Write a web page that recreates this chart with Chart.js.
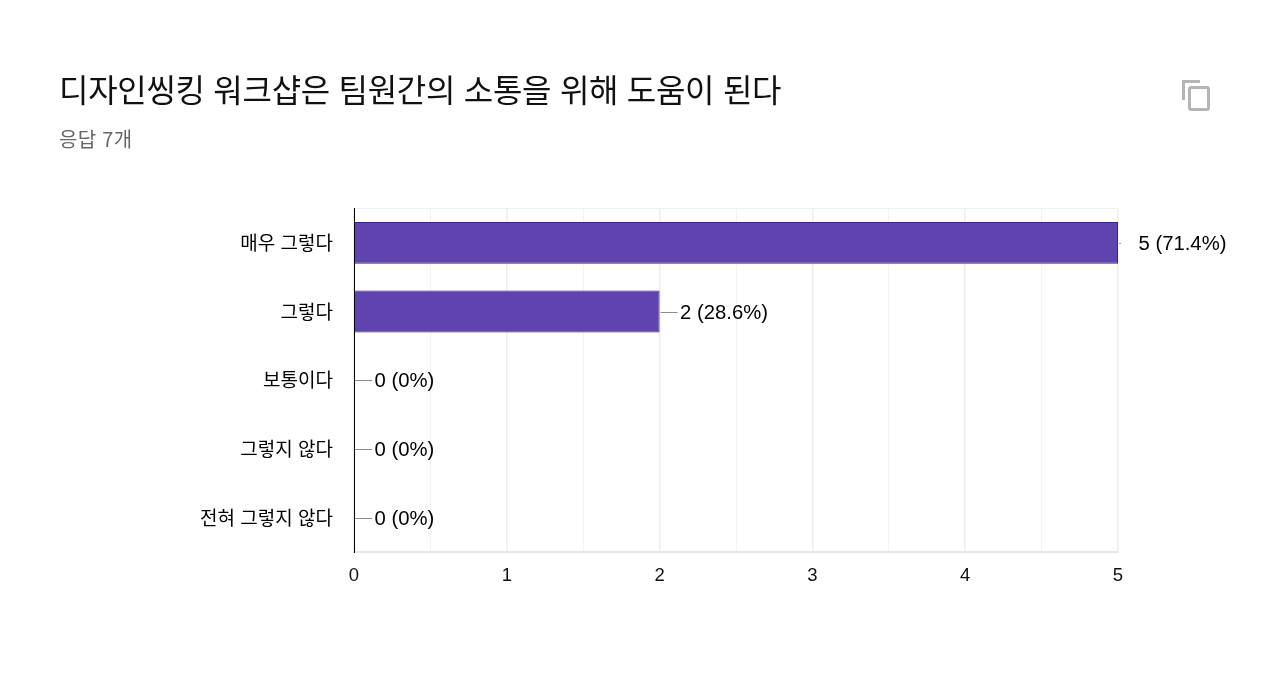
<!DOCTYPE html>
<html lang="ko">
<head>
    <meta charset="UTF-8">
    <title>디자인씽킹 워크샵은 팀원간의 소통을 위해 도움이 된다</title>
    <style>
        html, body { margin: 0; padding: 0; background: #fff; overflow: hidden; }
        #wrap { position: relative; width: 1280px; height: 678px; }
        #chartCanvas { position: absolute; left: 0; top: 0; }
        h1 {
            position: absolute; left: 59px; top: 65px; margin: 0;
            font: 400 32px "Noto Sans CJK KR", sans-serif; color: #111; letter-spacing: -0.3px;
            white-space: nowrap; line-height: 46px;
        }
        p {
            position: absolute; left: 59px; top: 125px; margin: 0;
            font: 400 20px "Noto Sans CJK KR", sans-serif; color: #666; letter-spacing: 0.3px;
            white-space: nowrap; line-height: 28px;
        }
        svg { position: absolute; left: 1182px; top: 79px; }
    </style>
    <script src="https://cdn.jsdelivr.net/npm/chart.js@4"></script>
</head>
<body>
    <div id="wrap">
        <canvas id="chartCanvas" width="1280" height="678"></canvas>
        <h1>디자인씽킹 워크샵은 팀원간의 소통을 위해 도움이 된다</h1>
        <p>응답 7개</p>
        <svg width="28" height="32" viewBox="0 0 28 32" fill="none" stroke="#b5b5b5" stroke-width="3">
            <path d="M1.5 21V2.5H18"/>
            <rect x="7.5" y="8.5" width="19" height="22" rx="1.5"/>
        </svg>
    </div>

    <script>
        var categories = ['매우 그렇다', '그렇다', '보통이다', '그렇지 않다', '전혀 그렇지 않다'];
        var counts = [5, 2, 0, 0, 0];
        var valueLabels = ['5 (71.4%)', '2 (28.6%)', '0 (0%)', '0 (0%)', '0 (0%)'];
        var leaderLengths = [2, 17, 17, 17, 17];

        var labelFont = '"Liberation Sans", "Noto Sans CJK KR", sans-serif';

        // value labels with the little grey leader line
        var valueLabelPlugin = {
            id: 'valueLabels',
            afterDatasetsDraw: function (chart) {
                var ctx = chart.ctx;
                var x = chart.scales.x;
                var y = chart.scales.y;
                ctx.save();
                ctx.font = '20.3px ' + labelFont;
                ctx.textBaseline = 'middle';
                counts.forEach(function (v, i) {
                    var px = x.getPixelForValue(v);
                    var py = y.getPixelForValue(i);
                    ctx.strokeStyle = '#8c8c8c';
                    ctx.lineWidth = 1;
                    ctx.beginPath();
                    ctx.moveTo(px + 1, Math.round(py) + 0.5);
                    ctx.lineTo(px + 1 + leaderLengths[i], Math.round(py) + 0.5);
                    ctx.stroke();
                    ctx.fillStyle = '#000';
                    ctx.fillText(valueLabels[i], px + 20.5, py + 1.5);
                });
                ctx.restore();
            }
        };

        Chart.defaults.animation = false;

        new Chart(document.getElementById('chartCanvas'), {
            type: 'bar',
            data: {
                labels: categories,
                datasets: [{
                    data: counts,
                    backgroundColor: '#5f43ae',
                    borderColor: '#3a2090',
                    borderWidth: 1,
                    categoryPercentage: 1,
                    barPercentage: 0.61
                }]
            },
            options: {
                indexAxis: 'y',
                responsive: false,
                layout: { padding: { top: 208.5, right: 162, bottom: 0, left: 0 } },
                plugins: { legend: { display: false }, tooltip: { enabled: false } },
                scales: {
                    x: {
                        min: 0,
                        max: 5,
                        afterFit: function (scale) { scale.height = 126; },
                        ticks: {
                            stepSize: 0.5,
                            autoSkip: false,
                            maxRotation: 0,
                            padding: 13,
                            color: '#111',
                            font: { family: labelFont, size: 18.5 },
                            callback: function (v) { return Number.isInteger(v) ? String(v) : ''; }
                        },
                        grid: {
                            drawTicks: false,
                            lineWidth: function (c) { return Number.isInteger(c.tick.value) ? 1.5 : 1; },
                            color: function (c) {
                                return Number.isInteger(c.tick.value) ? '#eeeeee' : '#f3f3f3';
                            }
                        },
                        border: { color: '#e6e6e6', width: 2 }
                    },
                    y: {
                        afterFit: function (scale) { scale.width = 354; },
                        ticks: {
                            padding: 21,
                            labelOffset: 2,
                            color: '#000',
                            font: { family: labelFont, size: 19 }
                        },
                        grid: {
                            drawTicks: false,
                            color: function (c) { return c.index === 0 ? '#eeeeee' : 'transparent'; }
                        },
                        border: { color: '#000', width: 1, z: 2 }
                    }
                }
            },
            plugins: [valueLabelPlugin]
        });
    </script>
</body>
</html>
